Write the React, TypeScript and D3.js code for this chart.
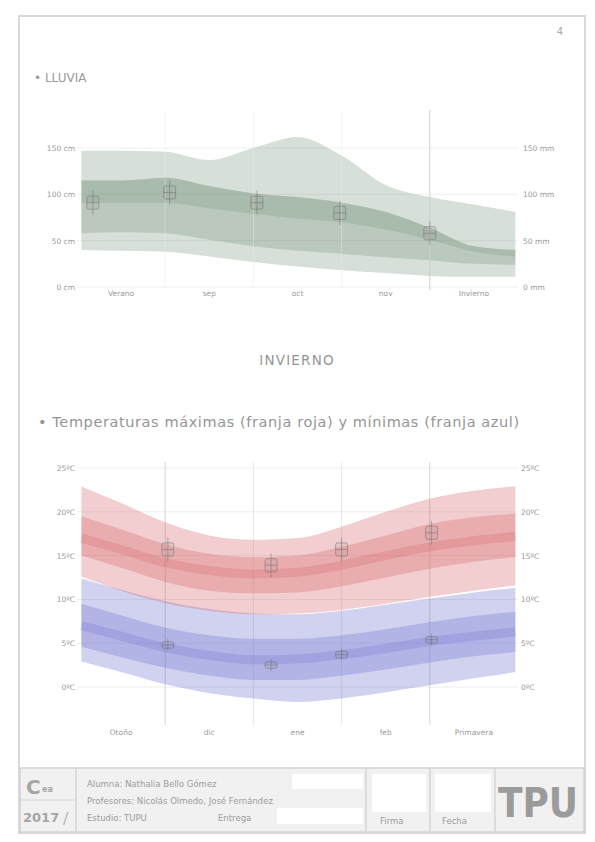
import React, { useRef, useEffect } from 'react';
import * as d3 from 'd3';

// posiciones de las muestras (0 = inicio de la primera columna, 5 = final de la última)
const samplePos = [0.05, 0.5, 1, 1.5, 2, 2.5, 3, 3.5, 4, 4.5, 4.97];

const rainCategories = ['Verano', 'sep', 'oct', 'nov', 'Invierno'];
const tempCategories = ['Otoño', 'dic', 'ene', 'feb', 'Primavera'];

const rainTicks = [0, 50, 100, 150];
const tempTicks = [0, 5, 10, 15, 20, 25];

// lluvia (mm) - franjas de percentiles
const rainP90 = [147, 147, 146, 137, 150, 162, 142, 110, 97, 89, 81];
const rainP75 = [115, 115, 118, 109, 101, 97, 91, 81, 64, 44, 40];
const rainP50 = [91, 91, 91, 85, 79, 74, 70, 62, 51, 38, 33];
const rainP25 = [58, 59, 58, 51, 44, 39, 36, 32, 29, 25, 24];
const rainP10 = [40, 39, 38, 33, 27, 22, 18, 15, 12, 11, 11];

// observaciones de lluvia
const rainObsPos = [0.18, 1.05, 2.04, 2.98, 4.0];
const rainObs = [91, 102, 91, 80, 58];

// temperaturas máximas (ºC)
const maxP90 = [22.9, 21.0, 18.8, 17.3, 16.8, 17.0, 18.3, 20.0, 21.5, 22.4, 22.9];
const maxP75 = [19.5, 18.0, 16.3, 15.2, 14.8, 15.0, 16.0, 17.3, 18.6, 19.4, 19.8];
const maxP50 = [17.0, 15.7, 14.2, 13.3, 12.9, 13.1, 13.9, 15.0, 16.0, 16.7, 17.2];
const maxP25 = [15.0, 13.6, 12.0, 11.0, 10.7, 10.8, 11.5, 12.5, 13.5, 14.3, 14.8];
const maxP10 = [12.6, 11.0, 9.6, 8.7, 8.3, 8.4, 8.8, 9.5, 10.3, 11.0, 11.6];

// temperaturas mínimas (ºC)
const minP90 = [12.4, 11.1, 9.8, 8.9, 8.4, 8.3, 8.7, 9.4, 10.1, 10.8, 11.3];
const minP75 = [9.5, 8.2, 6.8, 5.9, 5.5, 5.5, 5.9, 6.6, 7.4, 8.1, 8.6];
const minP50 = [7.0, 5.8, 4.5, 3.6, 3.1, 3.2, 3.7, 4.4, 5.2, 5.8, 6.3];
const minP25 = [4.6, 3.4, 2.2, 1.3, 0.8, 0.8, 1.3, 2.0, 2.8, 3.5, 4.0];
const minP10 = [2.9, 1.7, 0.3, -0.7, -1.3, -1.7, -1.3, -0.6, 0.2, 1.0, 1.7];

const tempObsPos = [1.03, 2.2, 3.0, 4.02];
const maxObs = [15.7, 13.9, 15.7, 17.6];
const minObs = [4.8, 2.5, 3.7, 5.4];

const gridPos = [1, 2, 3, 4];

const FONT = "'DejaVu Sans', 'Liberation Sans', sans-serif";

const App: React.FC = () => {
  const svgRef = useRef<SVGSVGElement>(null);

  useEffect(() => {
    if (!svgRef.current) return;
    const svg = d3.select(svgRef.current);
    svg.selectAll('*').remove();

    const x = d3.scaleLinear().domain([0, 5]).range([77, 518]);
    const catX = d3.scaleBand<string>().domain(rainCategories).range([77, 518]);

    // marco de la página
    svg.append('rect')
      .attr('x', 19).attr('y', 16).attr('width', 566).attr('height', 817)
      .attr('fill', '#fff').attr('stroke', '#d9d9d9').attr('stroke-width', 2);

    svg.append('text')
      .attr('x', 560).attr('y', 35).attr('text-anchor', 'middle')
      .attr('font-family', FONT).attr('font-size', 10).attr('fill', '#aaa')
      .text('4');

    // ---------- LLUVIA ----------
    svg.append('text')
      .attr('x', 34).attr('y', 82)
      .attr('font-family', FONT).attr('font-size', 12).attr('fill', '#9a9a9a')
      .text('• LLUVIA');

    const yRain = d3.scaleLinear().domain([0, 150]).range([287, 148]);
    const g1 = svg.append('g');

    g1.selectAll('.hgrid').data(rainTicks).enter().append('line')
      .attr('x1', 77).attr('x2', 518)
      .attr('y1', d => yRain(d)).attr('y2', d => yRain(d))
      .attr('stroke', '#f0f0f0');

    const band = (lo: number[], hi: number[], y: d3.ScaleLinear<number, number>) =>
      d3.area<number>()
        .x((_, i) => x(samplePos[i]))
        .y0((_, i) => y(lo[i]))
        .y1((_, i) => y(hi[i]))
        .curve(d3.curveMonotoneX)(samplePos.map((_, i) => i)) as string;

    const green = 'rgb(110,140,120)';
    g1.append('path').attr('d', band(rainP10, rainP90, yRain)).attr('fill', green).attr('fill-opacity', 0.28);
    g1.append('path').attr('d', band(rainP25, rainP75, yRain)).attr('fill', green).attr('fill-opacity', 0.28);
    g1.append('path').attr('d', band(rainP50, rainP75, yRain)).attr('fill', green).attr('fill-opacity', 0.22);

    g1.selectAll('.vgrid').data(gridPos).enter().append('line')
      .attr('x1', d => x(d)).attr('x2', d => x(d))
      .attr('y1', 110).attr('y2', 290)
      .attr('stroke', d => (d === 4 ? '#cfcfcf' : '#e9e9e9'))
      .attr('stroke-opacity', d => (d === 4 ? 1 : 0.45));

    const drawObs = (g: d3.Selection<SVGGElement, unknown, null, undefined>, pos: number[], vals: number[], y: d3.ScaleLinear<number, number>, spread: number) => {
      const m = g.selectAll(null).data(vals).enter().append('g')
        .attr('transform', (d, i) => `translate(${x(pos[i])},${y(d)})`)
        .attr('stroke', '#6f6f6f').attr('stroke-opacity', 0.5).attr('fill', 'none');
      m.append('line').attr('x1', 0).attr('x2', 0).attr('y1', -spread).attr('y2', spread);
      m.append('rect').attr('x', -6).attr('y', -spread * 0.55).attr('width', 12)
        .attr('height', spread * 1.1).attr('rx', 2).attr('fill', '#888').attr('fill-opacity', 0.12);
      m.append('line').attr('x1', -6).attr('x2', 6).attr('y1', 0).attr('y2', 0);
    };
    drawObs(g1, rainObsPos, rainObs, yRain, 12);

    const leftRain = d3.axisLeft(yRain).tickValues(rainTicks).tickSize(0).tickPadding(0)
      .tickFormat(d => `${d} cm`);
    const rightRain = d3.axisRight(yRain).tickValues(rainTicks).tickSize(0).tickPadding(0)
      .tickFormat(d => `${d} mm`);
    const axL = g1.append('g').attr('transform', 'translate(75,0)').call(leftRain);
    const axR = g1.append('g').attr('transform', 'translate(523,0)').call(rightRain);
    const axB = g1.append('g').attr('transform', 'translate(0,291)')
      .call(d3.axisBottom(catX).tickSize(0).tickPadding(0));
    [axL, axR, axB].forEach(a => {
      a.select('.domain').remove();
      a.selectAll('text').attr('font-family', FONT).attr('font-size', 7.5).attr('fill', '#999');
    });

    // ---------- INVIERNO ----------
    svg.append('text')
      .attr('x', 297).attr('y', 365).attr('text-anchor', 'middle')
      .attr('font-family', FONT).attr('font-size', 13.5).attr('letter-spacing', 1.2)
      .attr('fill', '#959595')
      .text('INVIERNO');

    svg.append('text')
      .attr('x', 38).attr('y', 427)
      .attr('font-family', FONT).attr('font-size', 14.5).attr('letter-spacing', 0.6)
      .attr('fill', '#959595')
      .text('• Temperaturas máximas (franja roja) y mínimas (franja azul)');

    const yTemp = d3.scaleLinear().domain([0, 25]).range([687, 468]);
    const tempX = d3.scaleBand<string>().domain(tempCategories).range([77, 518]);
    const g2 = svg.append('g');

    g2.selectAll('.hgrid').data(tempTicks).enter().append('line')
      .attr('x1', 77).attr('x2', 518)
      .attr('y1', d => yTemp(d)).attr('y2', d => yTemp(d))
      .attr('stroke', '#eeeeee');

    g2.selectAll('.vgrid').data(gridPos).enter().append('line')
      .attr('x1', d => x(d)).attr('x2', d => x(d))
      .attr('y1', 462).attr('y2', 725)
      .attr('stroke', d => (d === 1 || d === 4 ? '#d6d6d6' : '#e8e8e8'));

    const red = 'rgb(210,80,85)';
    const blue = 'rgb(90,95,200)';
    const median = (vals: number[], y: d3.ScaleLinear<number, number>) =>
      d3.line<number>().x((_, i) => x(samplePos[i])).y(d => y(d)).curve(d3.curveMonotoneX)(vals) as string;

    g2.append('path').attr('d', band(minP10, minP90, yTemp)).attr('fill', blue).attr('fill-opacity', 0.28);
    g2.append('path').attr('d', band(minP25, minP75, yTemp)).attr('fill', blue).attr('fill-opacity', 0.26);
    g2.append('path').attr('d', median(minP50, yTemp)).attr('fill', 'none').attr('stroke', blue)
      .attr('stroke-width', 9).attr('stroke-opacity', 0.2);

    g2.append('path').attr('d', band(maxP10, maxP90, yTemp)).attr('fill', red).attr('fill-opacity', 0.28);
    g2.append('path').attr('d', band(maxP25, maxP75, yTemp)).attr('fill', red).attr('fill-opacity', 0.26);
    g2.append('path').attr('d', median(maxP50, yTemp)).attr('fill', 'none').attr('stroke', red)
      .attr('stroke-width', 9).attr('stroke-opacity', 0.2);

    drawObs(g2, tempObsPos, maxObs, yTemp, 12);
    drawObs(g2, tempObsPos, minObs, yTemp, 6);

    const leftTemp = d3.axisLeft(yTemp).tickValues(tempTicks).tickSize(0).tickPadding(0)
      .tickFormat(d => `${d}ºC`);
    const rightTemp = d3.axisRight(yTemp).tickValues(tempTicks).tickSize(0).tickPadding(0)
      .tickFormat(d => `${d}ºC`);
    const tL = g2.append('g').attr('transform', 'translate(75,0)').call(leftTemp);
    const tR = g2.append('g').attr('transform', 'translate(521,0)').call(rightTemp);
    const tB = g2.append('g').attr('transform', 'translate(0,730)')
      .call(d3.axisBottom(tempX).tickSize(0).tickPadding(0));
    [tL, tR, tB].forEach(a => {
      a.select('.domain').remove();
      a.selectAll('text').attr('font-family', FONT).attr('font-size', 7.5).attr('fill', '#999');
    });

    // ---------- cajetín ----------
    const tb = svg.append('g');
    tb.append('rect').attr('x', 20).attr('y', 768).attr('width', 564).attr('height', 64)
      .attr('fill', '#f1f1f1').attr('stroke', '#d4d4d4').attr('stroke-width', 1.5);
    [76, 366, 430, 495].forEach(v => {
      tb.append('line').attr('x1', v).attr('x2', v).attr('y1', 768).attr('y2', 832)
        .attr('stroke', '#d4d4d4').attr('stroke-width', 1.5);
    });
    tb.append('line').attr('x1', 20).attr('x2', 76).attr('y1', 800).attr('y2', 800)
      .attr('stroke', '#d4d4d4');
    const white = [[292, 774, 71, 15], [277, 808, 86, 16], [372, 774, 54, 38], [435, 774, 56, 38]];
    white.forEach(([wx, wy, ww, wh]) => {
      tb.append('rect').attr('x', wx).attr('y', wy).attr('width', ww).attr('height', wh).attr('fill', '#fff');
    });
    tb.append('text').attr('x', 26).attr('y', 794)
      .attr('font-family', FONT).attr('font-size', 20).attr('font-weight', 'bold').attr('fill', '#a5a5a5')
      .text('C');
    tb.append('text').attr('x', 42).attr('y', 792)
      .attr('font-family', FONT).attr('font-size', 8).attr('font-weight', 'bold').attr('fill', '#a5a5a5')
      .text('ea');
    tb.append('text').attr('x', 23).attr('y', 822)
      .attr('font-family', FONT).attr('font-size', 13).attr('font-weight', 'bold').attr('fill', '#a5a5a5')
      .text('2017');
    tb.append('text').attr('x', 63).attr('y', 824)
      .attr('font-family', FONT).attr('font-size', 16).attr('fill', '#b5b5b5')
      .text('/');

    const rows = [
      { x: 87, y: 787, t: 'Alumna: Nathalia Bello Gómez' },
      { x: 87, y: 804, t: 'Profesores: Nicolás Olmedo, José Fernández' },
      { x: 87, y: 821, t: 'Estudio: TUPU' },
      { x: 218, y: 821, t: 'Entrega' },
      { x: 380, y: 824, t: 'Firma' },
      { x: 442, y: 824, t: 'Fecha' }
    ];
    tb.selectAll(null).data(rows).enter().append('text')
      .attr('x', d => d.x).attr('y', d => d.y)
      .attr('font-family', FONT).attr('font-size', 8.5).attr('fill', '#9c9c9c')
      .text(d => d.t);

    tb.append('text').attr('x', 538).attr('y', 817).attr('text-anchor', 'middle')
      .attr('font-family', "'DejaVu Sans Condensed', 'Liberation Sans Narrow', sans-serif")
      .attr('font-size', 40).attr('font-weight', 'bold').attr('fill', '#9b9b9b')
      .text('TPU');
  }, []);

  return (
    <svg ref={svgRef} width={595} height={842}
      style={{ position: 'absolute', left: 0, top: 0, background: '#fff' }} />
  );
};

export default App;
